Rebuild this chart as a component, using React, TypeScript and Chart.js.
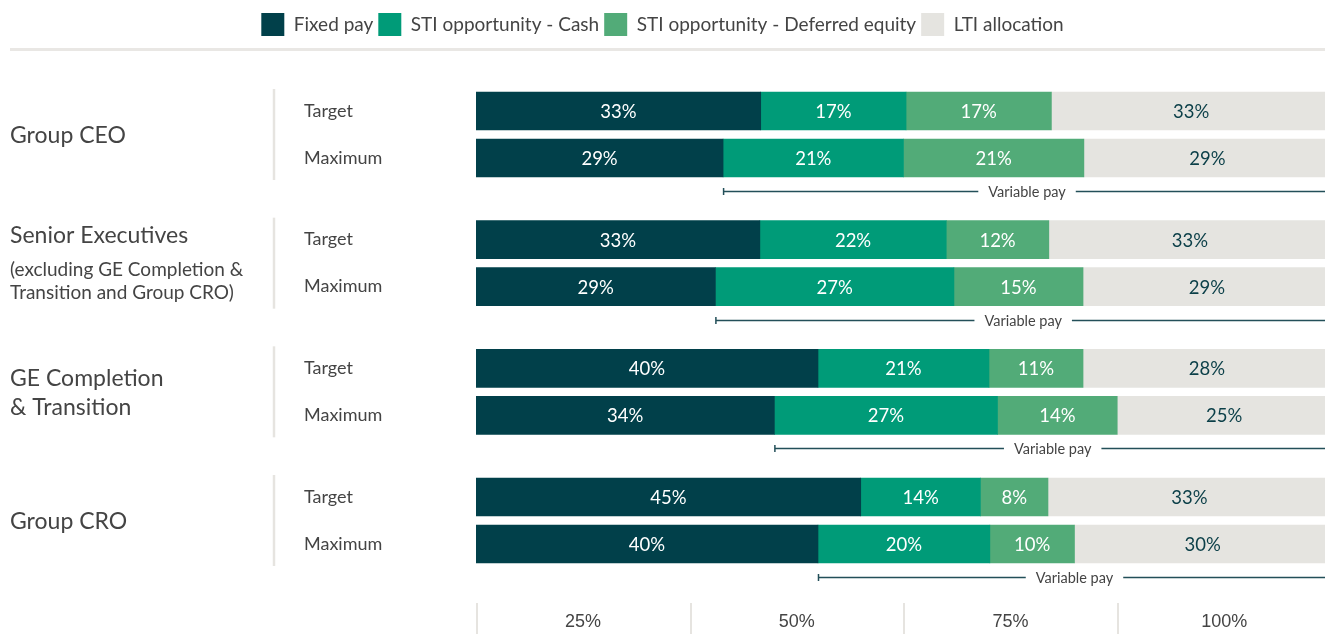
import React, { useEffect, useRef } from "react";
import { Chart, registerables } from "chart.js";

Chart.register(...registerables);

// ---------- data ----------
const seriesNames = ["Fixed pay", "STI opportunity - Cash", "STI opportunity - Deferred equity", "LTI allocation"];
const seriesColors = ["#01404a", "#009b78", "#52ab78", "#e5e4e0"];
const groupTitles = [["Group CEO"], ["Senior Executives"], ["GE Completion", "& Transition"], ["Group CRO"]];
const groupNotes = [[], ["(excluding GE Completion &", "Transition and Group CRO)"], [], []];
const rowKinds = ["Target", "Maximum"];
// rows: CEO T, CEO M, Senior T, Senior M, GE T, GE M, CRO T, CRO M
const fixedPay = [33.3, 28.9, 33.2, 28.0, 40.0, 34.9, 45.0, 40.0];
const stiCash = [17.0, 21.1, 21.8, 27.9, 20.0, 26.1, 14.0, 20.1];
const stiDeferred = [17.0, 21.1, 12.0, 15.1, 11.0, 14.0, 7.9, 9.9];
const ltiAllocation = [32.7, 28.9, 33.0, 29.0, 29.0, 25.0, 33.1, 30.0];
const fixedLabels = [33, 29, 33, 29, 40, 34, 45, 40];
const cashLabels = [17, 21, 22, 27, 21, 27, 14, 20];
const deferredLabels = [17, 21, 12, 15, 11, 14, 8, 10];
const ltiLabels = [33, 29, 33, 29, 28, 25, 33, 30];
const xTicks = [0, 25, 50, 75];
const xTickLabels = ["25%", "50%", "75%", "100%"];
const variablePayLabel = "Variable pay";

const seriesValues = [fixedPay, stiCash, stiDeferred, ltiAllocation];
const seriesLabels = [fixedLabels, cashLabels, deferredLabels, ltiLabels];

// ---------- layout constants ----------
const W = 1325;
const H = 634;
const FONT = "Lato";
const TEXT = "#444444";
const DARK = "#0b3f48";
const LIGHT_LINE = "#e6e4e0";
const ROW_GAP_UNITS = 0.3653; // Target -> Maximum distance (group spacing = 1)
const PX_PER_UNIT = 128.67;
const FIRST_ROW_PX = 111;

const rowPos = (i: number) => Math.floor(i / 2) + (i % 2) * ROW_GAP_UNITS;

// map the row units onto the chart area once the layout is known
const rowMappingPlugin = {
  id: "rowMapping",
  afterLayout(chart: any) {
    const s = chart.scales.y;
    const ca = chart.chartArea;
    const min = -(FIRST_ROW_PX - ca.top) / PX_PER_UNIT;
    s.min = min;
    s.max = min + (ca.bottom - ca.top) / PX_PER_UNIT;
    s.configure();
  },
};

const framePlugin = {
  id: "frame",
  afterDraw(chart: any) {
    const ctx = chart.ctx;
    const xScale = chart.scales.x;
    const ca = chart.chartArea;
    ctx.save();
    // line under legend
    ctx.strokeStyle = "#e9e7e4";
    ctx.lineWidth = 3;
    ctx.beginPath();
    ctx.moveTo(10, 49.5);
    ctx.lineTo(W, 49.5);
    ctx.stroke();
    // axis dividers
    ctx.strokeStyle = LIGHT_LINE;
    ctx.lineWidth = 2;
    ctx.beginPath();
    xTicks.forEach((v) => {
      const px = Math.round(xScale.getPixelForValue(v)) + 1;
      ctx.moveTo(px, ca.bottom);
      ctx.lineTo(px, H);
    });
    ctx.stroke();
    ctx.restore();
  },
};

const valueLabelPlugin = {
  id: "valueLabels",
  afterDatasetsDraw(chart: any) {
    const ctx = chart.ctx;
    ctx.save();
    ctx.font = `18.5px ${FONT}`;
    ctx.textAlign = "center";
    ctx.textBaseline = "middle";
    chart.data.datasets.forEach((_ds: any, k: number) => {
      const meta = chart.getDatasetMeta(k);
      meta.data.forEach((el: any, i: number) => {
        const p = el.getProps(["x", "y", "base"], true);
        ctx.fillStyle = k === 3 ? DARK : "#ffffff";
        ctx.fillText(seriesLabels[k][i] + "%", (p.x + p.base) / 2, p.y + 1);
      });
    });
    ctx.restore();
  },
};

const variablePayPlugin = {
  id: "variablePay",
  afterDatasetsDraw(chart: any) {
    const ctx = chart.ctx;
    const meta = chart.getDatasetMeta(0);
    const xScale = chart.scales.x;
    const right = chart.chartArea.right;
    const x100 = xScale.getPixelForValue(100);
    ctx.save();
    ctx.font = `14.5px ${FONT}`;
    ctx.textAlign = "center";
    ctx.textBaseline = "middle";
    const tw = ctx.measureText(variablePayLabel).width;
    meta.data.forEach((el: any, i: number) => {
      if (i % 2 !== 1) return;
      const p = el.getProps(["x", "y"], true);
      const y = Math.round(p.y + 33) + 0.5;
      const x0 = p.x;
      const cx = (x0 + x100) / 2;
      ctx.strokeStyle = "#234f59";
      ctx.lineWidth = 1.5;
      ctx.beginPath();
      ctx.moveTo(x0, y);
      ctx.lineTo(cx - tw / 2 - 10, y);
      ctx.moveTo(cx + tw / 2 + 10, y);
      ctx.lineTo(right, y);
      ctx.moveTo(x0 + 0.5, y - 3.5);
      ctx.lineTo(x0 + 0.5, y + 3.5);
      ctx.stroke();
      ctx.fillStyle = TEXT;
      ctx.fillText(variablePayLabel, cx, y + 1);
    });
    ctx.restore();
  },
};

const leftLabelsPlugin = {
  id: "leftLabels",
  afterDraw(chart: any) {
    const ctx = chart.ctx;
    const yScale = chart.scales.y;
    ctx.save();
    ctx.textBaseline = "middle";
    ctx.textAlign = "left";
    groupTitles.forEach((titles, g) => {
      const yT = yScale.getPixelForValue(rowPos(g * 2));
      const yM = yScale.getPixelForValue(rowPos(g * 2 + 1));
      // separator
      ctx.strokeStyle = LIGHT_LINE;
      ctx.lineWidth = 2.5;
      ctx.beginPath();
      ctx.moveTo(274, yT - 22);
      ctx.lineTo(274, yM + 22);
      ctx.stroke();
      // row labels
      ctx.fillStyle = TEXT;
      ctx.font = `18px ${FONT}`;
      ctx.fillText(rowKinds[0], 304, yT);
      ctx.fillText(rowKinds[1], 304, yM);
      // group title block
      const lines: { text: string; big: boolean }[] = [];
      titles.forEach((t) => lines.push({ text: t, big: true }));
      groupNotes[g].forEach((t) => lines.push({ text: t, big: false }));
      const offsets: number[] = [0];
      for (let j = 1; j < lines.length; j++) {
        const prev = lines[j - 1].big;
        const cur = lines[j].big;
        const step = prev && cur ? 29 : prev ? 34 : 23;
        offsets.push(offsets[j - 1] + step);
      }
      const total = offsets[offsets.length - 1];
      const center = (yT + yM) / 2;
      lines.forEach((ln, j) => {
        ctx.font = ln.big ? `23px ${FONT}` : `19px ${FONT}`;
        ctx.fillText(ln.text, 10, center - total / 2 + offsets[j] + 1);
      });
    });
    ctx.restore();
  },
};

export default function App() {
  const canvasRef = useRef<HTMLCanvasElement | null>(null);

  useEffect(() => {
    document.body.style.margin = "0";
    const canvas = canvasRef.current;
    if (!canvas) return;
    const chart = new Chart(canvas, {
      type: "bar",
      data: {
        datasets: seriesValues.map((vals, k) => ({
          label: seriesNames[k],
          data: vals.map((v, i) => ({ x: v, y: rowPos(i) })),
          backgroundColor: seriesColors[k],
          borderWidth: 0,
          barThickness: 38,
        })),
      },
      options: {
        indexAxis: "y",
        animation: false,
        responsive: false,
        devicePixelRatio: 1,
        layout: { padding: { left: 0, right: 0, top: 8, bottom: -8 } },
        scales: {
          x: {
            type: "linear",
            stacked: true,
            min: 0,
            max: 99.3,
            position: "bottom",
            afterBuildTicks: (s: any) => {
              s.ticks = xTicks.map((v) => ({ value: v }));
            },
            grid: { display: false, drawTicks: false },
            border: { display: false },
            ticks: {
              padding: 10,
              labelOffset: 107,
              color: TEXT,
              maxRotation: 0,
              autoSkip: false,
              font: { family: "Liberation Sans", size: 18, lineHeight: 1.056 },
              callback: (_v: any, i: number) => xTickLabels[i],
            },
          },
          y: {
            type: "linear",
            stacked: true,
            reverse: true,
            offset: false,
            min: -0.5,
            max: 3.8,
            display: true,
            grid: { display: false, offset: false },
            border: { display: false },
            ticks: { display: false },
            afterFit: (s: any) => {
              s.width = 476;
            },
          },
        },
        plugins: {
          legend: {
            position: "top",
            align: "center",
            labels: {
              boxWidth: 23,
              boxHeight: 23,
              padding: 5,
              color: TEXT,
              font: { family: FONT, size: 19 },
            },
          },
          tooltip: { enabled: false },
        },
      } as any,
      plugins: [rowMappingPlugin, framePlugin, valueLabelPlugin, variablePayPlugin, leftLabelsPlugin],
    });

    return () => chart.destroy();
  }, []);

  return (
    <div style={{ width: W, height: H, position: "relative", background: "#ffffff" }}>
      <canvas ref={canvasRef} width={W} height={H} />
    </div>
  );
}
